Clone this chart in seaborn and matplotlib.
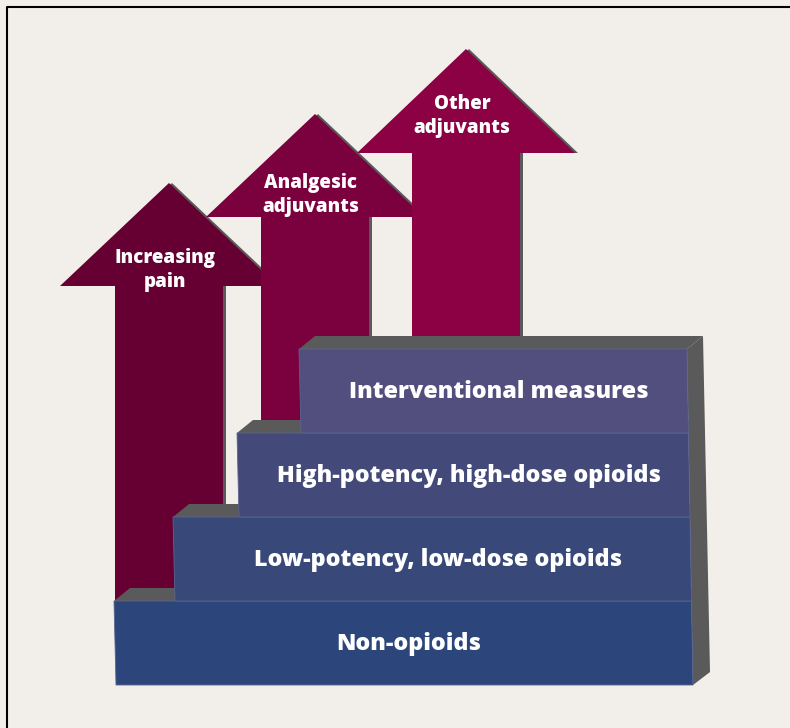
import matplotlib
matplotlib.use("Agg")
import matplotlib.pyplot as plt
import seaborn as sns
from matplotlib.patches import Polygon

sns.set_theme(style="white")
plt.rcParams['font.family'] = ['Open Sans', 'DejaVu Sans']

# Steps of the ladder, bottom to top
step_labels = ["Non-opioids",
               "Low-potency, low-dose opioids",
               "High-potency, high-dose opioids",
               "Interventional measures"]
step_left = [114, 173, 237, 299]
step_top = [601, 517, 433, 349]
step_bottom = 685
step_colors = ["#2c467b", "#374879", "#434a7a", "#524e7e"]

# Arrows, back to front
arrow_labels = ["Increasing\npain", "Analgesic\nadjuvants", "Other\nadjuvants"]
arrow_center = [169, 315, 466]
arrow_tip = [183, 114, 49]
arrow_base = [286, 217, 153]
arrow_bottom = [600, 440, 349]
arrow_text_y = [270, 195, 116]
arrow_colors = ["#660033", "#7a003e", "#8c0044"]

bg = "#f2efea"
shade = "#5a5a5a"
head_hw = 109
shaft_hw = 54

fig = plt.figure(figsize=(7.9, 7.28), dpi=100)
fig.patch.set_facecolor(bg)
ax = fig.add_axes([0, 0, 1, 1])
ax.set_facecolor(bg)
ax.set_xlim(0, 790)
ax.set_ylim(728, 0)
ax.axis("off")

# frame
ax.plot([7, 7, 790], [728, 7, 7], color="black", lw=1.5)


def right_x(y):
    # right edge of the step front, slight perspective
    return 687 + 6 * (y - 349) / 336


# arrows
for lab, cx, tip, base, bot, ty, col in zip(arrow_labels, arrow_center, arrow_tip,
                                             arrow_base, arrow_bottom, arrow_text_y,
                                             arrow_colors):
    pts = [(cx, tip), (cx + head_hw, base), (cx + shaft_hw, base),
           (cx + shaft_hw, bot), (cx - shaft_hw, bot), (cx - shaft_hw, base),
           (cx - head_hw, base)]
    sh = [(x + 3, y) for x, y in pts]
    ax.add_patch(Polygon(sh, closed=True, fc=shade, ec="none"))
    ax.add_patch(Polygon(pts, closed=True, fc=col, ec="none"))
    ax.text(cx - 4, ty, lab, color="white", fontsize=13.5, fontweight="heavy",
            ha="center", va="center", linespacing=1.3)

# side face of the block
ax.add_patch(Polygon([(687, 349), (703, 336), (710, 672), (693, 685)],
                     closed=True, fc=shade, ec="none"))

bottoms = [step_bottom] + step_top[:-1]
for lab, left, top, bot, col in zip(step_labels, step_left, step_top, bottoms, step_colors):
    # top face
    ax.add_patch(Polygon([(left, top), (left + 16, top - 13), (703, top - 13),
                          (right_x(top), top)], closed=True, fc=shade, ec="none"))
    # front face
    ax.add_patch(Polygon([(left, top), (right_x(top), top), (right_x(bot), bot),
                          (left + 2, bot)], closed=True, fc=col,
                         ec="#5a6490", lw=0.6))
    ax.text((left + right_x(top)) / 2 + 6, (top + bot) / 2 + 1, lab, color="white",
            fontsize=16.8, fontweight="heavy", ha="center", va="center")

fig.savefig("out.png", dpi=100, facecolor=bg)
